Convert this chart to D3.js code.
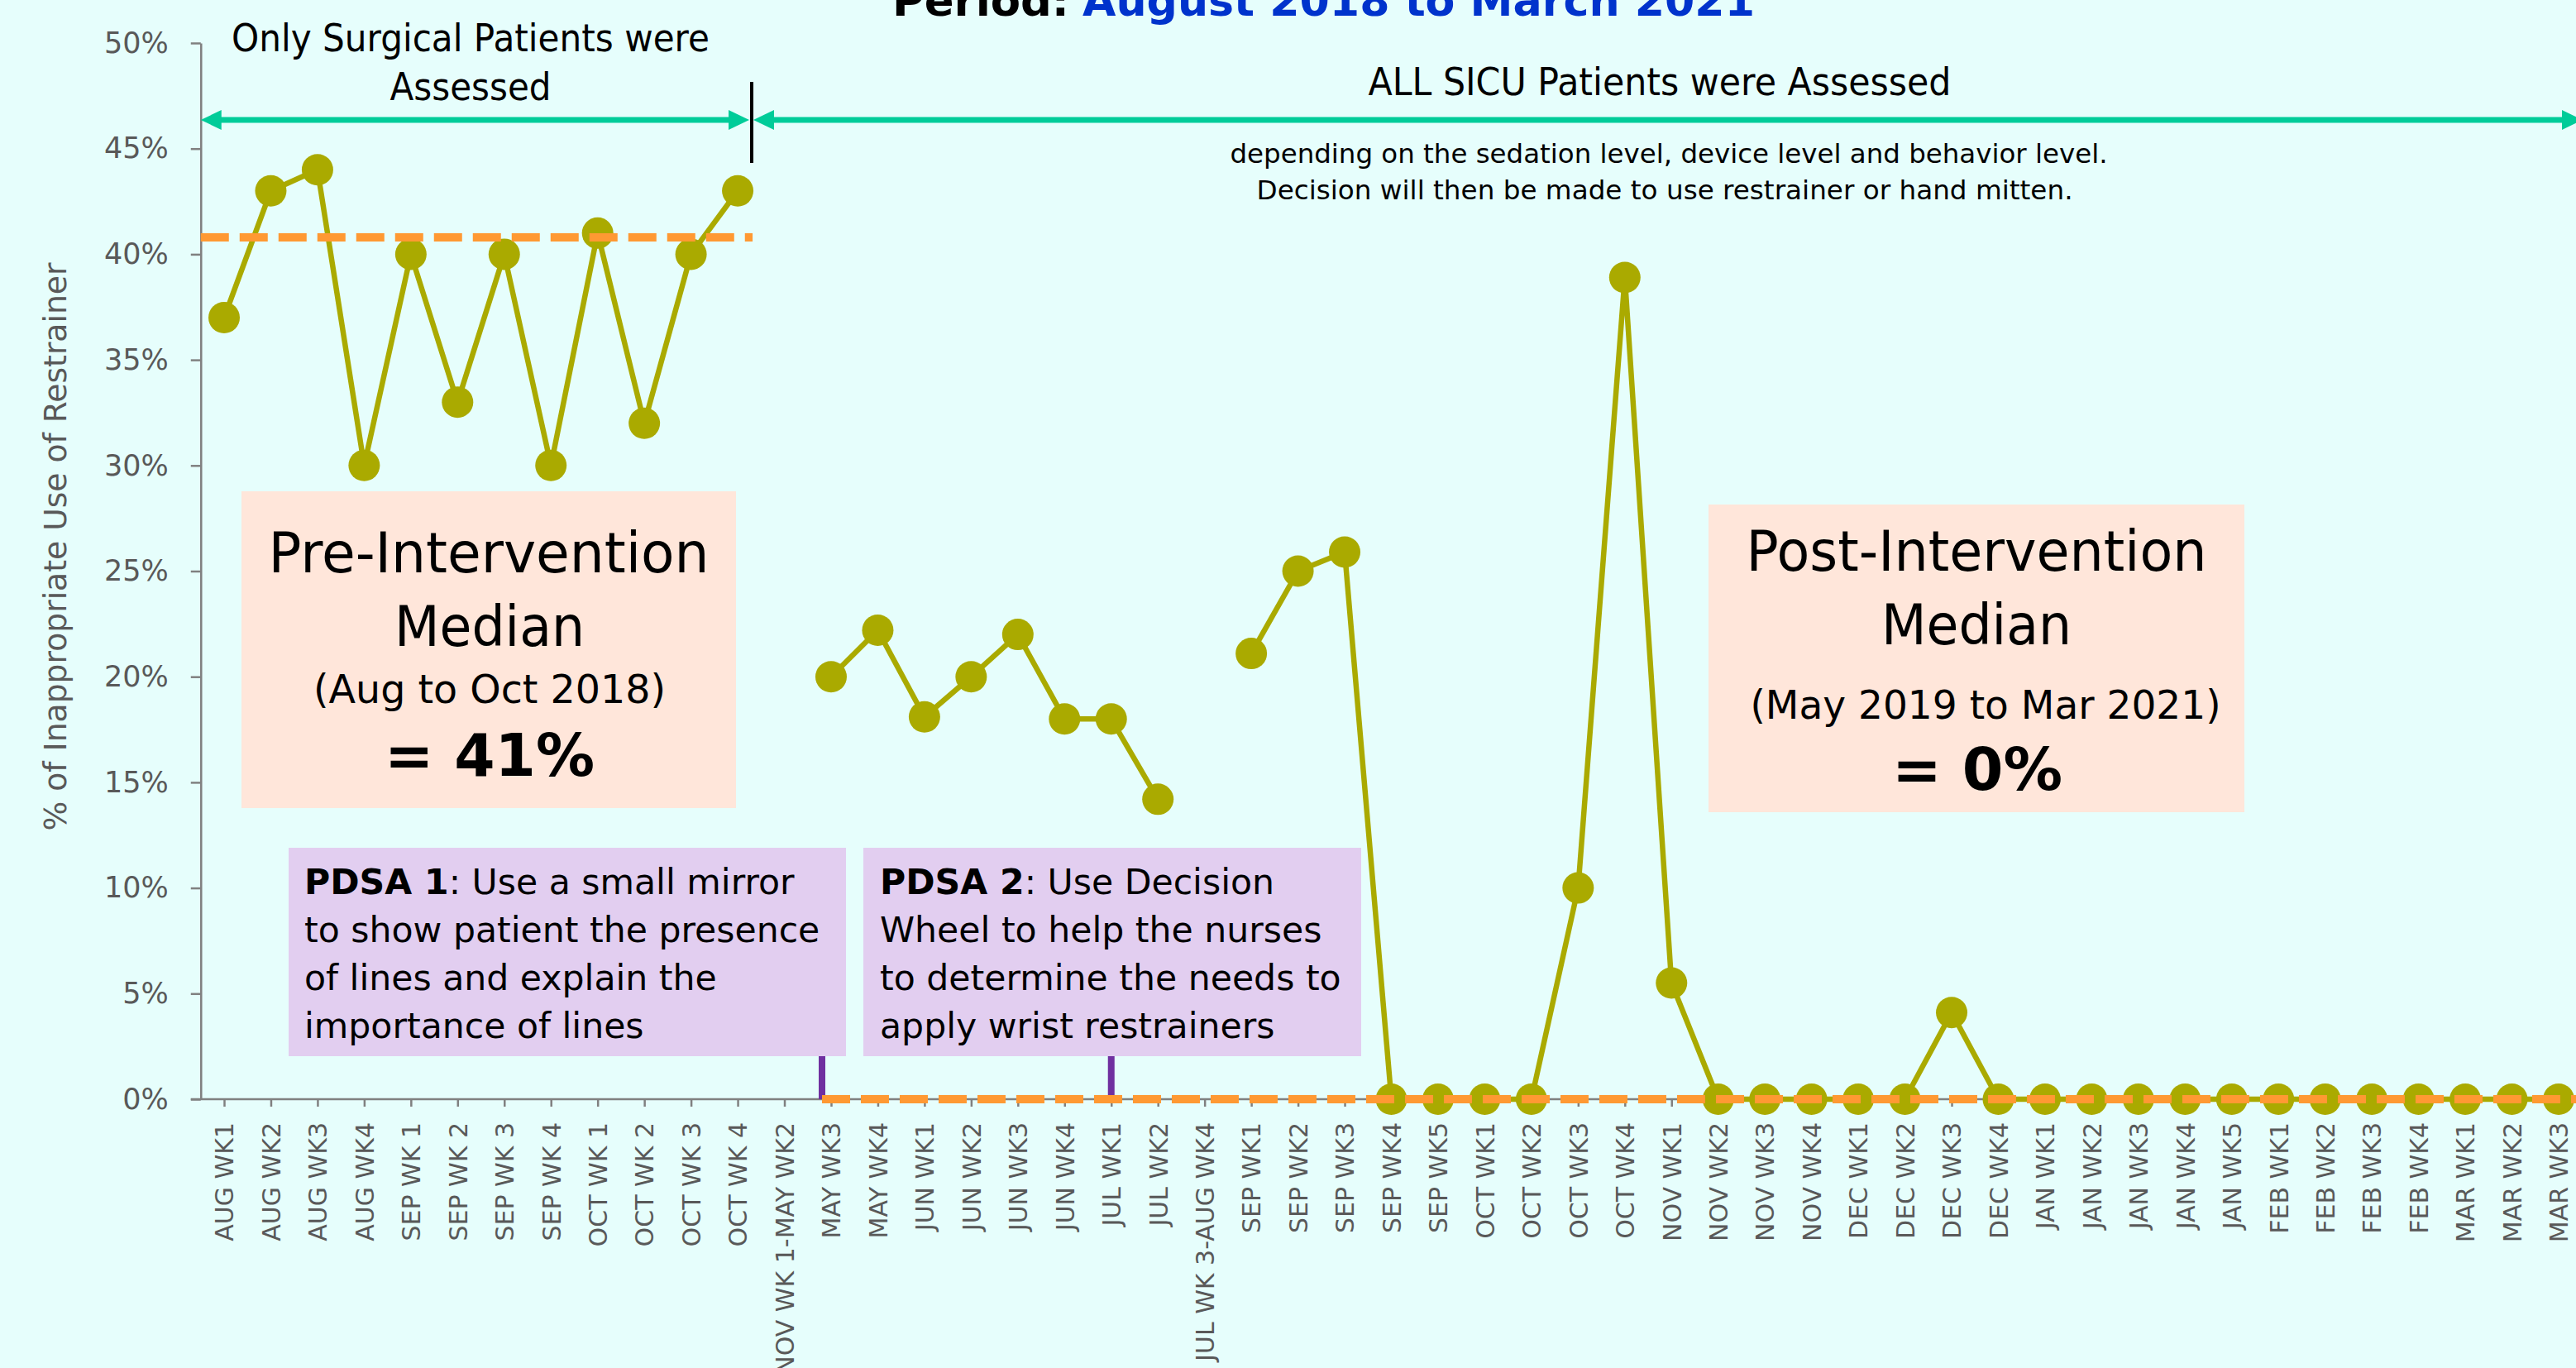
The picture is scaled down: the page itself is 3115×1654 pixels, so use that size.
<!DOCTYPE html>
<html><head><meta charset="utf-8">
<script src="https://cdn.jsdelivr.net/npm/d3@7"></script>
<style>html,body{margin:0;padding:0;background:#E6FEFC;overflow:hidden}</style>
</head><body><svg id="c" width="3115" height="1654"></svg>
<script>
// ---------- DATA ----------
const categories = [
  "AUG WK1","AUG WK2","AUG WK3","AUG WK4","SEP WK 1","SEP WK 2","SEP WK 3","SEP WK 4",
  "OCT WK 1","OCT WK 2","OCT WK 3","OCT WK 4","NOV WK 1-MAY WK2","MAY WK3","MAY WK4",
  "JUN WK1","JUN WK2","JUN WK3","JUN WK4","JUL WK1","JUL WK2","JUL WK 3-AUG WK4",
  "SEP WK1","SEP WK2","SEP WK3","SEP WK4","SEP WK5","OCT WK1","OCT WK2","OCT WK3","OCT WK4",
  "NOV WK1","NOV WK2","NOV WK3","NOV WK4","DEC WK1","DEC WK2","DEC WK3","DEC WK4",
  "JAN WK1","JAN WK2","JAN WK3","JAN WK4","JAN WK5","FEB WK1","FEB WK2","FEB WK3","FEB WK4",
  "MAR WK1","MAR WK2","MAR WK3"
];
// share of inappropriate restrainer use (null = not measured)
const values = [
  0.37,0.43,0.44,0.30,0.40,0.33,0.40,0.30,
  0.41,0.32,0.40,0.43,null,0.20,0.222,
  0.181,0.20,0.22,0.18,0.18,0.142,null,
  0.211,0.25,0.259,0,0,0,0,0.10,0.389,
  0.055,0,0,0,0,0,0.041,0,
  0,0,0,0,0,0,0,0,0,
  0,0,0
];
const yTicks = [0,0.05,0.10,0.15,0.20,0.25,0.30,0.35,0.40,0.45,0.50];
const preMedian = 0.408;
const postMedian = 0;
const preLastCategory = "OCT WK 4";
const postFirstCategory = "MAY WK3";
const pdsaCategories = ["MAY WK3","JUL WK1"];

// ---------- SETUP ----------
const W = 3115, H = 1654;
const font = "'DejaVu Sans', Verdana, sans-serif";
const svg = d3.select("#c");
svg.append("rect").attr("width",W).attr("height",H).attr("fill","#E6FEFC");

const x = d3.scalePoint().domain(categories).range([271,3094]);
const y = d3.scaleLinear().domain([0,0.5]).range([1329,52]);
const step = x.step();
const axisX0 = x(categories[0]) - step/2;

// ---------- AXES ----------
svg.append("line").attr("x1",axisX0-12).attr("x2",W).attr("y1",y(0)).attr("y2",y(0))
  .attr("stroke","#808080").attr("stroke-width",2.5);

const gy = svg.append("g").attr("transform",`translate(${axisX0},0)`)
  .call(d3.axisLeft(y).tickValues(yTicks).tickFormat(d3.format(".0%"))
    .tickSizeInner(12).tickSizeOuter(0).tickPadding(27));
gy.select(".domain").attr("stroke","#808080").attr("stroke-width",2.5);
gy.selectAll(".tick line").attr("stroke","#808080").attr("stroke-width",2.5);
gy.selectAll(".tick text").attr("fill","#595959").attr("font-size",35).attr("font-family",font);

const gx = svg.append("g").attr("transform",`translate(0,${y(0)})`)
  .call(d3.axisBottom(x).tickSizeInner(9).tickSizeOuter(0));
gx.select(".domain").remove();
gx.selectAll(".tick line").attr("stroke","#808080").attr("stroke-width",2.5);
gx.selectAll(".tick text")
  .attr("x",0).attr("y",0).attr("dy","0.36em")
  .attr("transform","translate(0,28) rotate(-90)")
  .attr("text-anchor","end")
  .attr("fill","#595959").attr("font-size",30).attr("font-family",font);

// y-axis title
svg.append("text").attr("transform",`translate(80,661) rotate(-90)`)
  .attr("text-anchor","middle").attr("font-family",font).attr("font-size",37)
  .attr("fill","#595959").attr("textLength",687).attr("lengthAdjust","spacingAndGlyphs")
  .text("% of Inappropriate Use of Restrainer");

// ---------- TITLE (cropped at top, as in the reference) ----------
svg.append("text").attr("x",1079).attr("y",19).attr("font-family",font).attr("font-weight","bold")
  .attr("font-size",52).attr("fill","#000").attr("textLength",214).attr("lengthAdjust","spacingAndGlyphs")
  .text("Period:");
svg.append("text").attr("x",1309).attr("y",19).attr("font-family",font).attr("font-weight","bold")
  .attr("font-size",52).attr("fill","#0033CC").attr("textLength",813).attr("lengthAdjust","spacingAndGlyphs")
  .text("August 2018 to March 2021");

// ---------- ARROWS ----------
const green = "#00CC99";
const arrowY = 145, divX = 909;
function arrow(x1, x2, headL, headR){
  svg.append("line").attr("x1",x1+(headL?20:0)).attr("x2",x2-(headR?20:0))
    .attr("y1",arrowY).attr("y2",arrowY).attr("stroke",green).attr("stroke-width",7);
  if(headL) svg.append("path").attr("d",`M${x1},${arrowY} L${x1+25},${arrowY-12} L${x1+25},${arrowY+12} Z`).attr("fill",green);
  if(headR) svg.append("path").attr("d",`M${x2},${arrowY} L${x2-25},${arrowY-12} L${x2-25},${arrowY+12} Z`).attr("fill",green);
}
arrow(axisX0, divX-3, true, true);
arrow(divX+2, W+8, true, true);
svg.append("line").attr("x1",divX).attr("x2",divX).attr("y1",99).attr("y2",197)
  .attr("stroke","#000").attr("stroke-width",4);

function label(xc, yb, str, size, len, opts={}){
  const t = svg.append("text").attr("x",xc).attr("y",yb).attr("text-anchor",opts.anchor||"middle")
    .attr("font-family",font).attr("font-size",size).attr("fill",opts.fill||"#000")
    .attr("font-weight",opts.bold?"bold":"normal").text(str);
  if(len) t.attr("textLength",len).attr("lengthAdjust","spacingAndGlyphs");
  return t;
}
label(569, 62, "Only Surgical Patients were", 47, 578);
label(569, 121, "Assessed", 47, 195);
label(2007, 115, "ALL SICU Patients were Assessed", 47, 705);
label(2018, 197, "depending on the sedation level, device level and behavior level.", 32, 1061);
label(2013, 241, "Decision will then be made to use restrainer or hand mitten.", 32, 987);

// ---------- BOXES ----------
svg.append("rect").attr("x",292).attr("y",594).attr("width",598).attr("height",383).attr("fill","#FFE6DA");
svg.append("rect").attr("x",2066).attr("y",610).attr("width",648).attr("height",372).attr("fill","#FFE6DA");
svg.append("rect").attr("x",349).attr("y",1025).attr("width",674).attr("height",252).attr("fill","#E2CEF0");
svg.append("rect").attr("x",1044).attr("y",1025).attr("width",602).attr("height",252).attr("fill","#E2CEF0");

label(591, 692, "Pre-Intervention", 68, 533);
label(592, 781, "Median", 68, 230);
label(592, 850, "(Aug to Oct 2018)", 48, 426);
label(592, 938, "= 41%", 71, 254, {bold:true});

label(2390, 690, "Post-Intervention", 68, 557);
label(2390, 779, "Median", 68, 230);
label(2401, 869, "(May 2019 to Mar 2021)", 48, 569);
label(2391, 955, "= 0%", 71, 206, {bold:true});

function para(x0, y0, lines){
  lines.forEach((ln,i)=>{
    const t = svg.append("text").attr("x",x0).attr("y",y0+i*58)
      .attr("font-family",font).attr("font-size",42.6).attr("fill","#000");
    ln.forEach(seg=>t.append("tspan").attr("font-weight",seg[1]?"bold":"normal").text(seg[0]));
  });
}
para(368, 1081, [
  [["PDSA 1",true],[": Use a small mirror",false]],
  [["to show patient the presence",false]],
  [["of lines and explain the",false]],
  [["importance of lines",false]]
]);
para(1064, 1081, [
  [["PDSA 2",true],[": Use Decision",false]],
  [["Wheel to help the nurses",false]],
  [["to determine the needs to",false]],
  [["apply wrist restrainers",false]]
]);

// PDSA connectors
svg.append("line").attr("x1",x(pdsaCategories[0])-11).attr("x2",x(pdsaCategories[0])-11)
  .attr("y1",1277).attr("y2",y(0)).attr("stroke","#7030A0").attr("stroke-width",8);
svg.append("line").attr("x1",x(pdsaCategories[1])).attr("x2",x(pdsaCategories[1]))
  .attr("y1",1277).attr("y2",y(0)).attr("stroke","#7030A0").attr("stroke-width",8);

// ---------- DATA SERIES ----------
const pts = categories.map((c,i)=>({c, v: values[i]}));
const line = d3.line().defined(d=>d.v!=null).x(d=>x(d.c)).y(d=>y(d.v));
svg.append("path").datum(pts).attr("d",line).attr("fill","none")
  .attr("stroke","#AAAA00").attr("stroke-width",6.5).attr("stroke-linejoin","round");
svg.selectAll("circle.dot").data(pts.filter(d=>d.v!=null)).join("circle").attr("class","dot")
  .attr("cx",d=>x(d.c)).attr("cy",d=>y(d.v)).attr("r",19).attr("fill","#AAAA00");

// ---------- MEDIANS ----------
svg.append("line").attr("x1",axisX0).attr("x2",x(preLastCategory)+18)
  .attr("y1",y(preMedian)).attr("y2",y(preMedian))
  .attr("stroke","#FF9933").attr("stroke-width",10).attr("stroke-dasharray","34 13");
svg.append("line").attr("x1",x(postFirstCategory)-11).attr("x2",W)
  .attr("y1",y(postMedian)).attr("y2",y(postMedian))
  .attr("stroke","#FF9933").attr("stroke-width",10).attr("stroke-dasharray","34 13");
</script></body></html>
